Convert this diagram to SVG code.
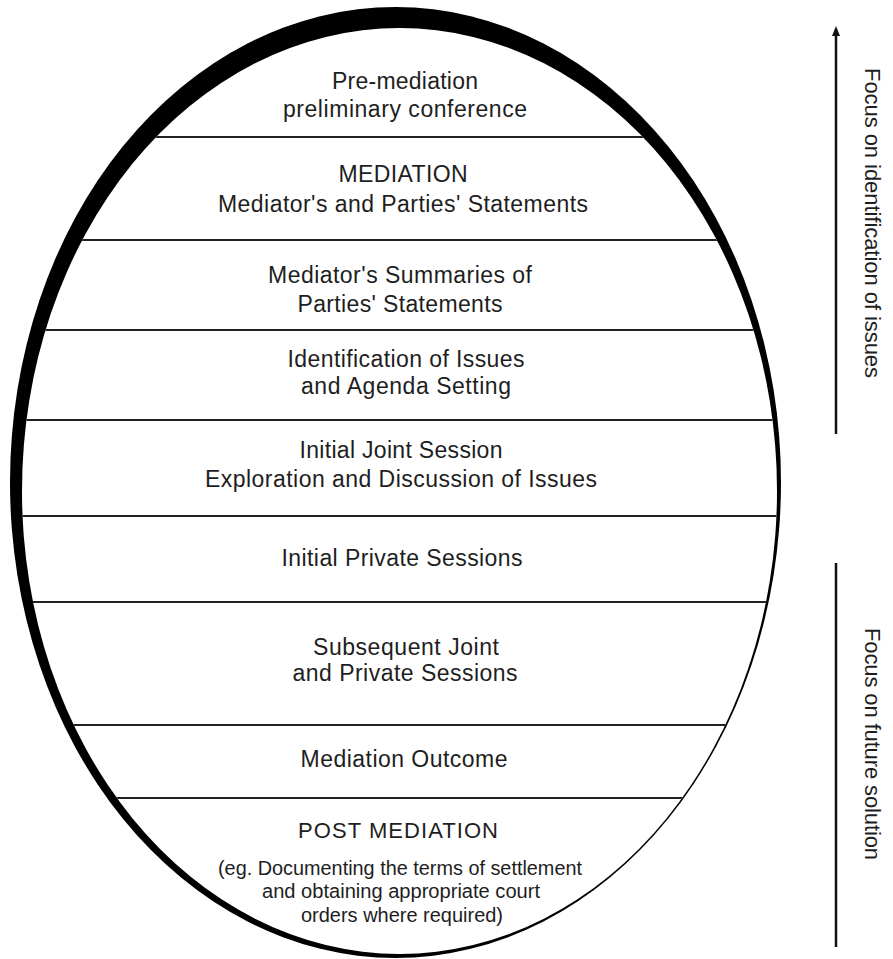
<svg xmlns="http://www.w3.org/2000/svg" width="893" height="959" viewBox="0 0 893 959">
<defs>
<style>
.t{font-family:"Liberation Sans",Arial,Helvetica,sans-serif;font-size:23px;fill:#1e1e1e;text-anchor:middle}
.s{font-size:19.5px}
.p{font-size:22px}
.div{stroke:#222;stroke-width:2}
.ax{stroke:#111;stroke-width:2.5;fill:none}
.side{font-family:"Liberation Sans",Arial,Helvetica,sans-serif;font-size:22px;fill:#1e1e1e;text-anchor:middle}
</style>
<clipPath id="inner"><ellipse cx="399.5" cy="491" rx="377.5" ry="463"/></clipPath>
<marker id="ah" viewBox="0 0 10 10" refX="3" refY="5" markerWidth="10" markerHeight="10" markerUnits="userSpaceOnUse" orient="auto"><path d="M0,1 L10,5 L0,9 z" fill="#111"/></marker>
</defs>
<rect width="893" height="959" fill="#fff"/>
<g id="frame">
<ellipse cx="395.5" cy="482.5" rx="385.5" ry="475.5" fill="#000"/>
<ellipse cx="399.5" cy="491" rx="377.5" ry="463" fill="#fff"/>
</g>
<g id="dividers" clip-path="url(#inner)">
<line class="div" x1="0" y1="137" x2="893" y2="137"/>
<line class="div" x1="0" y1="240" x2="893" y2="240"/>
<line class="div" x1="0" y1="330" x2="893" y2="330"/>
<line class="div" x1="0" y1="420" x2="893" y2="420"/>
<line class="div" x1="0" y1="516" x2="893" y2="516"/>
<line class="div" x1="0" y1="602" x2="893" y2="602"/>
<line class="div" x1="0" y1="725" x2="893" y2="725"/>
<line class="div" x1="0" y1="798" x2="893" y2="798"/>
</g>
<g id="pre-mediation">
<text class="t" x="405" y="89" textLength="146" lengthAdjust="spacing">Pre-mediation</text>
<text class="t" x="405" y="117" textLength="244" lengthAdjust="spacing">preliminary conference</text>
</g>
<g id="mediation-statements">
<text class="t" x="403" y="182" textLength="129" lengthAdjust="spacing">MEDIATION</text>
<text class="t" x="403" y="212" textLength="370" lengthAdjust="spacing">Mediator's and Parties' Statements</text>
</g>
<g id="summaries">
<text class="t" x="400" y="283" textLength="264" lengthAdjust="spacing">Mediator's Summaries of</text>
<text class="t" x="400" y="312" textLength="205" lengthAdjust="spacing">Parties' Statements</text>
</g>
<g id="issues-agenda">
<text class="t" x="406" y="367" textLength="237" lengthAdjust="spacing">Identification of Issues</text>
<text class="t" x="406" y="394" textLength="210" lengthAdjust="spacing">and Agenda Setting</text>
</g>
<g id="joint-session">
<text class="t" x="401" y="458" textLength="203" lengthAdjust="spacing">Initial Joint Session</text>
<text class="t" x="401" y="487" textLength="392" lengthAdjust="spacing">Exploration and Discussion of Issues</text>
</g>
<g id="private-sessions">
<text class="t" x="402" y="566" textLength="241" lengthAdjust="spacing">Initial Private Sessions</text>
</g>
<g id="subsequent-sessions">
<text class="t" x="406" y="655" textLength="186" lengthAdjust="spacing">Subsequent Joint</text>
<text class="t" x="405" y="681" textLength="225" lengthAdjust="spacing">and Private Sessions</text>
</g>
<g id="outcome">
<text class="t" x="404" y="767" textLength="207" lengthAdjust="spacing">Mediation Outcome</text>
</g>
<g id="post-mediation">
<text class="t p" x="398" y="838" textLength="200" lengthAdjust="spacing">POST MEDIATION</text>
<text class="t s" x="400" y="875" textLength="364" lengthAdjust="spacingAndGlyphs">(eg. Documenting the terms of settlement</text>
<text class="t s" x="401" y="898" textLength="278" lengthAdjust="spacingAndGlyphs">and obtaining appropriate court</text>
<text class="t s" x="402" y="922" textLength="202" lengthAdjust="spacingAndGlyphs">orders where required)</text>
</g>
<g id="connectors">
<line class="ax" x1="836" y1="434" x2="836" y2="33" marker-end="url(#ah)"/>
<line class="ax" x1="836" y1="563" x2="836" y2="947"/>
</g>
<g id="focus-issues">
<text class="side" transform="translate(865 223) rotate(90)" textLength="310" lengthAdjust="spacing">Focus on identification of issues</text>
</g>
<g id="focus-solution">
<text class="side" transform="translate(865 744) rotate(90)" textLength="232" lengthAdjust="spacing">Focus on future solution</text>
</g>
</svg>
